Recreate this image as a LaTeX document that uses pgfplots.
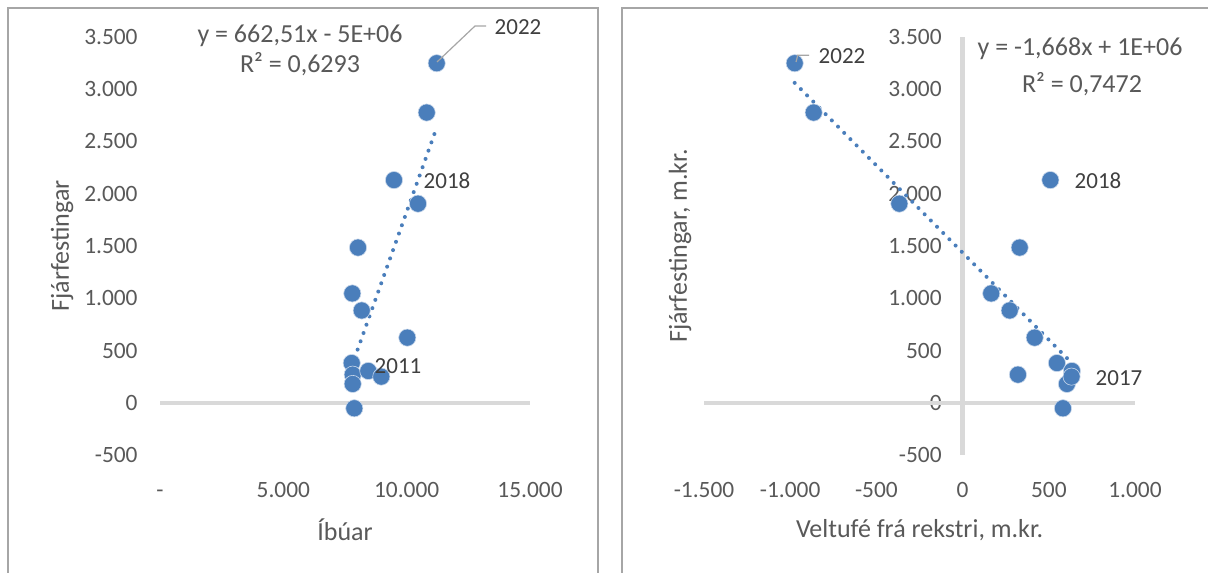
\documentclass[border=0pt]{standalone}
\usepackage{fontspec}
\setmainfont{Carlito}
\usepackage{pgfplots}
\pgfplotsset{compat=1.18}
\definecolor{pt}{HTML}{4A7EBB}
\definecolor{tk}{HTML}{595959}
\definecolor{dl}{HTML}{404040}
\definecolor{axg}{HTML}{D9D9D9}
\definecolor{fr}{HTML}{A6A6A6}

\pgfplotstableread{
x y
11217 3249
10812 2777
9486 2131
10459 1905
8027 1485
7796 1046
8177 883
10026 623
7772 380
7812 269
7812 180
8445 304
8971 250
7877 -53
}\lefttab

\pgfplotstableread{
x y
-974 3249
-864 2777
509 2131
-367 1905
331 1485
166 1046
273 883
418 623
547 380
321 269
605 180
634 304
632 250
582 -53
}\righttab

\pgfplotsset{myax/.style={
  scale only axis, height=209pt, ymin=-500, ymax=3500,
  axis line style={draw=none}, major tick length=0pt,
  scaled x ticks=false, scaled y ticks=false,
  ytick={-500,0,500,1000,1500,2000,2500,3000,3500},
  yticklabels={-500,0,500,1.000,1.500,2.000,2.500,3.000,3.500},
  tick label style={font=\fontsize{11.7}{14}\selectfont, text=tk, inner sep=0pt},
  x tick label style={anchor=north, yshift=-13pt, text height=8pt, text depth=0pt},
  label style={font=\fontsize{13}{15}\selectfont, text=tk},
  clip=false,
  anchor=south west,
}}

\begin{document}
\begin{tikzpicture}
\clip (0,0) rectangle (604pt,286pt);
\fill[white] (0,0) rectangle (604pt,286pt);
\begin{scope}[shift={(0,286pt)}, x=0.5pt, y=-0.5pt]
\draw[fr, line width=0.9pt] (8,8) rectangle (598,640);
\draw[fr, line width=0.9pt] (622,8) rectangle (1260,640);
\end{scope}

% Left chart
\begin{axis}[myax, at={(80pt,58.5pt)}, width=185pt,
  xmin=0, xmax=15000, xtick={0,5000,10000,15000},
  xticklabels={-,5.000,10.000,15.000},
  y tick label style={anchor=east, xshift=-11pt},
  xlabel={Íbúar}, ylabel={Fjárfestingar},
  xlabel style={at={(axis description cs:0.5,0)}, anchor=center, yshift=-37.5pt},
  ylabel style={at={(axis description cs:0,0.5)}, anchor=center, yshift=49pt},
]
\draw[axg, line width=2.2pt] (axis cs:0,0) -- (axis cs:15000,0);
\addplot[only marks, mark=*, mark size=4.3pt, color=pt, mark options={draw=white!70!pt, line width=0.3pt}] table[x=x,y=y] {\lefttab};
\addplot[pt, line width=2pt, line cap=round, dash pattern=on 0pt off 4.4pt] coordinates {(7772,350) (11217,2633)};
\end{axis}

% Right chart
\begin{axis}[myax, at={(352pt,58.5pt)}, width=215.5pt,
  xmin=-1500, xmax=1000, xtick={-1500,-1000,-500,0,500,1000},
  xticklabels={-1.500,-1.000,-500,0,500,1.000},
  y tick label style={anchor=east, xshift=119pt},
  xlabel={Veltufé frá rekstri, m.kr.}, ylabel={Fjárfestingar, m.kr.},
  xlabel style={at={(axis description cs:0.5,0)}, anchor=center, yshift=-37.5pt},
  ylabel style={at={(axis description cs:0,0.5)}, anchor=center, yshift=12pt},
]
\draw[axg, line width=2.2pt] (axis cs:-1500,0) -- (axis cs:1000,0);
\draw[axg, line width=2.2pt] (axis cs:0,-500) -- (axis cs:0,3500);
\addplot[only marks, mark=*, mark size=4.3pt, color=pt, mark options={draw=white!70!pt, line width=0.3pt}] table[x=x,y=y] {\righttab};
\addplot[pt, line width=2pt, line cap=round, dash pattern=on 0pt off 4.4pt] coordinates {(-974,3061) (634,379)};
\end{axis}

% data labels and leader lines
\begin{scope}[shift={(0,286pt)}, x=0.5pt, y=-0.5pt]
\tikzset{dlab/.style={font=\fontsize{11.5}{13}\selectfont, text=dl, inner sep=0pt, anchor=center},
         eq/.style={font=\fontsize{13}{15}\selectfont, text=tk, inner sep=0pt, anchor=center}}
\draw[fr, line width=0.6pt] (437,62) -- (475,26) -- (486,26);
\node[dlab] at (518,27) {2022};
\node[dlab] at (447,181) {2018};
\node[dlab] at (398,366) {2011};
\draw[fr, line width=0.6pt] (796,62) -- (797.7,55.3) -- (809,55.3);
\node[dlab] at (842,56) {2022};
\node[dlab] at (1098,181) {2018};
\node[dlab] at (1119,378) {2017};
\node[eq] at (300,36) {y = 662,51x - 5E+06};
\node[eq] at (300,64) {R² = 0,6293};
\node[eq] at (1080,49) {y = -1,668x + 1E+06};
\node[eq] at (1082,84) {R² = 0,7472};
\end{scope}
\end{tikzpicture}
\end{document}
